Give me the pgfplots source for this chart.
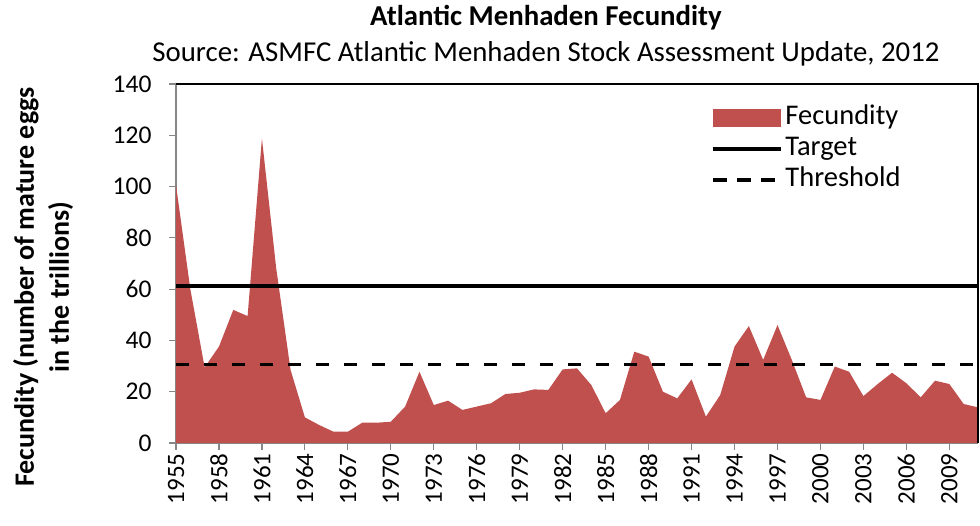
\documentclass[border=0pt]{standalone}
\usepackage{fontspec}
\setmainfont{Carlito}
\usepackage{pgfplots}
\pgfplotsset{compat=1.18}
\definecolor{areared}{HTML}{C0504D}
\definecolor{axgray}{HTML}{878787}
\begin{document}
\begin{tikzpicture}[x=1pt,y=1pt]
\useasboundingbox (-176,-83) rectangle (804,443);
\begin{axis}[
  at={(0pt,0pt)}, anchor=south west,
  scale only axis, width=802pt, height=359pt,
  xmin=1955, xmax=2011, ymin=0, ymax=140,
  axis x line*=bottom, axis y line*=left,
  axis line style={axgray, line width=1.6pt},
  xtick={1955,1958,...,2009},
  minor x tick num=2,
  ytick={0,20,...,140},
  tick align=outside,
  major tick length=7pt, minor tick length=7pt,
  every tick/.style={axgray, line width=1.2pt},
  /pgf/number format/assume math mode=true,
  /pgf/number format/1000 sep={},
  xticklabel style={rotate=90, anchor=east, font=\fontsize{25}{30}\selectfont},
  yticklabel style={font=\fontsize{25.5}{30}\selectfont, xshift=-14pt},
  legend style={at={(rel axis cs:0.663,0.945)}, anchor=north west, draw=none, fill=none,
    font=\fontsize{28.5}{32}\selectfont, row sep=3pt, inner ysep=0pt,
    nodes={inner xsep=3pt, inner ysep=1pt, anchor=west, text height=20pt, text depth=6pt}},
  legend cell align=left,
  clip=false,
]
\addplot [fill=areared, draw=none, area legend,
  legend image code/.code={\fill[areared] (0pt,-9pt) rectangle (68pt,9pt);}]
table {
x y
1955 100.6
1956 60
1957 29.5
1958 37.6
1959 51.9
1960 49.5
1961 118.8
1962 68
1963 28.5
1964 10.0
1965 7.0
1966 4.4
1967 4.4
1968 7.9
1969 7.9
1970 8.3
1971 14.2
1972 27.8
1973 14.8
1974 16.5
1975 12.9
1976 14.2
1977 15.5
1978 19.1
1979 19.6
1980 20.9
1981 20.7
1982 28.7
1983 29.1
1984 22.6
1985 11.6
1986 16.8
1987 35.6
1988 33.7
1989 20.0
1990 17.4
1991 24.8
1992 10.3
1993 18.7
1994 37.6
1995 45.6
1996 32.4
1997 46.0
1998 32.4
1999 17.8
2000 16.8
2001 29.8
2002 27.8
2003 18.3
2004 23.0
2005 27.4
2006 23.3
2007 17.8
2008 24.3
2009 23.0
2010 15.2
2011 13.9
} \closedcycle;
\addlegendentry{Fecundity}
\addplot [black, line width=3.5pt,
  legend image code/.code={\draw[black, line width=3.5pt] (0pt,0pt) -- (68pt,0pt);}]
  coordinates {(1955,61.2) (2011,61.2)};
\addlegendentry{Target}
\addplot [black, line width=3.5pt, dash pattern=on 13pt off 15pt,
  legend image code/.code={\draw[black, line width=3.5pt, dash pattern=on 14pt off 10pt] (0pt,0pt) -- (68pt,0pt);}]
  coordinates {(1955,30.6) (2011,30.6)};
\addlegendentry{Threshold}
\draw[black, line width=1.4pt] (rel axis cs:0,1) -- (rel axis cs:1,1) -- (rel axis cs:1,0);
\end{axis}
\node[anchor=base, font=\fontsize{28.8}{32}\selectfont\bfseries] at (370,417) {Atlantic Menhaden Fecundity};
\node[anchor=base, font=\fontsize{28.8}{32}\selectfont] at (370,381) {Source: ASMFC Atlantic Menhaden Stock Assessment Update, 2012};
\node[rotate=90, align=center, font=\fontsize{28}{35}\selectfont\bfseries] at (-133,156) {Fecundity (number of mature eggs\\in the trillions)};
\end{tikzpicture}
\end{document}
